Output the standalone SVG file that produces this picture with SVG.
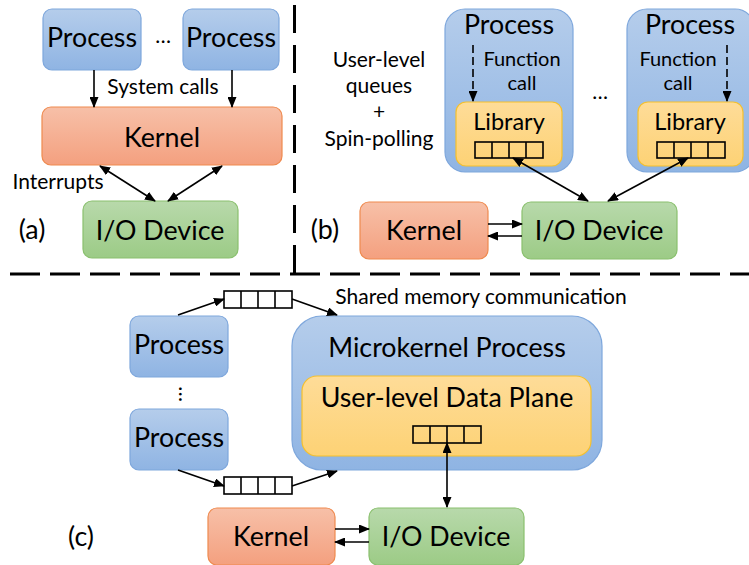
<svg xmlns="http://www.w3.org/2000/svg" width="749" height="565" viewBox="0 0 749 565">
<defs>
<linearGradient id="gBlue" x1="0" y1="0" x2="0" y2="1"><stop offset="0" stop-color="#b5cdeb"/><stop offset="1" stop-color="#8fb4e3"/></linearGradient>
<linearGradient id="gRed" x1="0" y1="0" x2="0" y2="1"><stop offset="0" stop-color="#f7c0a8"/><stop offset="1" stop-color="#f4a07f"/></linearGradient>
<linearGradient id="gGreen" x1="0" y1="0" x2="0" y2="1"><stop offset="0" stop-color="#b8d9ab"/><stop offset="1" stop-color="#9ccb86"/></linearGradient>
<linearGradient id="gYellow" x1="0" y1="0" x2="0" y2="1"><stop offset="0" stop-color="#fedc98"/><stop offset="1" stop-color="#fdd275"/></linearGradient>
<marker id="ah" markerUnits="userSpaceOnUse" markerWidth="11" markerHeight="9" refX="10" refY="4.5" orient="auto-start-reverse" viewBox="0 0 11 9">
<path d="M0,0 L11,4.5 L0,9 z" fill="#000"/>
</marker>
</defs>
<style>
.blue{fill:url(#gBlue);stroke:#7ea7dc;stroke-width:1.2}
.red{fill:url(#gRed);stroke:#ef8a4f;stroke-width:1.2}
.green{fill:url(#gGreen);stroke:#8ac06e;stroke-width:1.2}
.yellow{fill:url(#gYellow);stroke:#f6c02c;stroke-width:1.2}
.q{fill:none;stroke:#000;stroke-width:1.6}
.t{font-family:Lato,"Open Sans","Liberation Sans",sans-serif;fill:#000;text-anchor:middle}
.big{font-size:26.8px}
.mid{font-size:23.5px}
.sm{font-size:21px}
.fc{font-size:20px}
.arr{stroke:#000;stroke-width:1.6;fill:none;marker-end:url(#ah)}
.darr{stroke:#000;stroke-width:1.6;fill:none;marker-end:url(#ah);marker-start:url(#ah)}
.sep{stroke:#000;stroke-width:3;fill:none}
</style>

<g id="separators">
<line class="sep" x1="294.5" y1="5" x2="294.5" y2="275.5" stroke-dasharray="28 12"/>
<line class="sep" x1="10" y1="274" x2="749" y2="274" stroke-dasharray="30 10"/>
</g>

<!-- (a) -->
<g id="a-process1"><rect class="blue" x="43" y="9" width="98" height="61" rx="9"/><text class="t big" x="92" y="47">Process</text></g>
<text class="t sm" x="163" y="43">…</text>
<g id="a-process2"><rect class="blue" x="183" y="9" width="96" height="61" rx="9"/><text class="t big" x="231" y="47">Process</text></g>
<g id="a-kernel"><rect class="red" x="42" y="107" width="240" height="58" rx="9"/><text class="t big" x="162" y="147">Kernel</text></g>
<g id="a-io"><rect class="green" x="83" y="201" width="155" height="57" rx="9"/><text class="t big" x="160" y="240">I/O Device</text></g>
<text class="t sm" x="163" y="94">System calls</text>
<text class="t sm" x="58" y="189">Interrupts</text>
<text class="t big" x="32" y="239">(a)</text>

<!-- (b) -->
<text class="t sm" x="379" y="67">User-level</text>
<text class="t sm" x="379" y="93">queues</text>
<text class="t sm" x="379" y="119">+</text>
<text class="t sm" x="379" y="146">Spin-polling</text>

<g id="b-process1">
<rect class="blue" x="445" y="9" width="128" height="163" rx="20"/>
<text class="t big" x="509" y="34">Process</text>
<text class="t fc" x="522" y="66">Function</text>
<text class="t fc" x="522" y="90">call</text>
<g id="b-library1">
<rect class="yellow" x="456" y="102" width="106" height="64" rx="10"/>
<text class="t mid" x="509" y="130">Library</text>
<rect class="q" x="475" y="142" width="68" height="16"/>
<path class="q" d="M492,142 V158 M509,142 V158 M526,142 V158"/>
</g>
</g>
<text class="t sm" x="600" y="99">…</text>
<g id="b-process2">
<rect class="blue" x="627" y="9" width="128" height="163" rx="20"/>
<text class="t big" x="690" y="34">Process</text>
<text class="t fc" x="678" y="66">Function</text>
<text class="t fc" x="678" y="90">call</text>
<g id="b-library2">
<rect class="yellow" x="638" y="102" width="105" height="64" rx="10"/>
<text class="t mid" x="690" y="130">Library</text>
<rect class="q" x="657" y="142" width="68" height="16"/>
<path class="q" d="M674,142 V158 M691,142 V158 M708,142 V158"/>
</g>
</g>
<g id="b-kernel"><rect class="red" x="360" y="202" width="128" height="57" rx="9"/><text class="t big" x="424" y="240">Kernel</text></g>
<g id="b-io"><rect class="green" x="522" y="202" width="155" height="57" rx="9"/><text class="t big" x="599" y="240">I/O Device</text></g>
<text class="t big" x="325" y="239">(b)</text>

<!-- (c) -->
<g id="c-process1"><rect class="blue" x="130" y="316" width="98" height="61" rx="9"/><text class="t big" x="179" y="354">Process</text></g>
<text class="t sm" x="179" y="394" transform="rotate(90 179 394)">…</text>
<g id="c-process2"><rect class="blue" x="130" y="409" width="98" height="61" rx="9"/><text class="t big" x="179" y="447">Process</text></g>
<g id="c-queue-top"><rect class="q" x="224" y="291" width="68" height="17"/><path class="q" d="M241,291 V308 M258,291 V308 M275,291 V308"/></g>
<g id="c-queue-bottom"><rect class="q" x="224" y="477" width="68" height="17"/><path class="q" d="M241,477 V494 M258,477 V494 M275,477 V494"/></g>
<text class="t sm" x="481" y="304">Shared memory communication</text>
<g id="c-microkernel">
<rect class="blue" x="292" y="316" width="310" height="154" rx="30"/>
<text class="t big" x="447" y="357">Microkernel Process</text>
<g id="c-dataplane">
<rect class="yellow" x="302" y="376" width="289" height="80" rx="15"/>
<text class="t big" x="447" y="407">User-level Data Plane</text>
<rect class="q" x="413" y="426" width="68" height="17"/>
<path class="q" d="M430,426 V443 M447,426 V443 M464,426 V443"/>
</g>
</g>
<g id="c-kernel"><rect class="red" x="208" y="508" width="127" height="57" rx="9"/><text class="t big" x="271" y="546">Kernel</text></g>
<g id="c-io"><rect class="green" x="369" y="508" width="155" height="57" rx="9"/><text class="t big" x="446" y="546">I/O Device</text></g>
<text class="t big" x="81" y="546">(c)</text>

<g id="connectors">
<line class="arr" x1="94" y1="70" x2="94" y2="107"/>
<line class="arr" x1="232" y1="70" x2="232" y2="107"/>
<line class="darr" x1="100" y1="166" x2="155" y2="201"/>
<line class="darr" x1="222" y1="166" x2="168" y2="201"/>
<line class="arr" x1="473" y1="45" x2="473" y2="101" stroke-dasharray="8 4"/>
<line class="arr" x1="727" y1="45" x2="727" y2="101" stroke-dasharray="8 4"/>
<line class="darr" x1="513" y1="158" x2="588" y2="201"/>
<line class="darr" x1="688" y1="158" x2="608" y2="201"/>
<line class="arr" x1="488" y1="224" x2="522" y2="224"/>
<line class="arr" x1="522" y1="236" x2="488" y2="236"/>
<line class="arr" x1="178" y1="315" x2="224" y2="299"/>
<line class="arr" x1="292" y1="299" x2="337" y2="315"/>
<line class="arr" x1="178" y1="470" x2="224" y2="486"/>
<line class="arr" x1="292" y1="486" x2="337" y2="471"/>
<line class="darr" x1="447" y1="443" x2="447" y2="507"/>
<line class="arr" x1="335" y1="529" x2="369" y2="529"/>
<line class="arr" x1="369" y1="542" x2="335" y2="542"/>
</g>
</svg>
